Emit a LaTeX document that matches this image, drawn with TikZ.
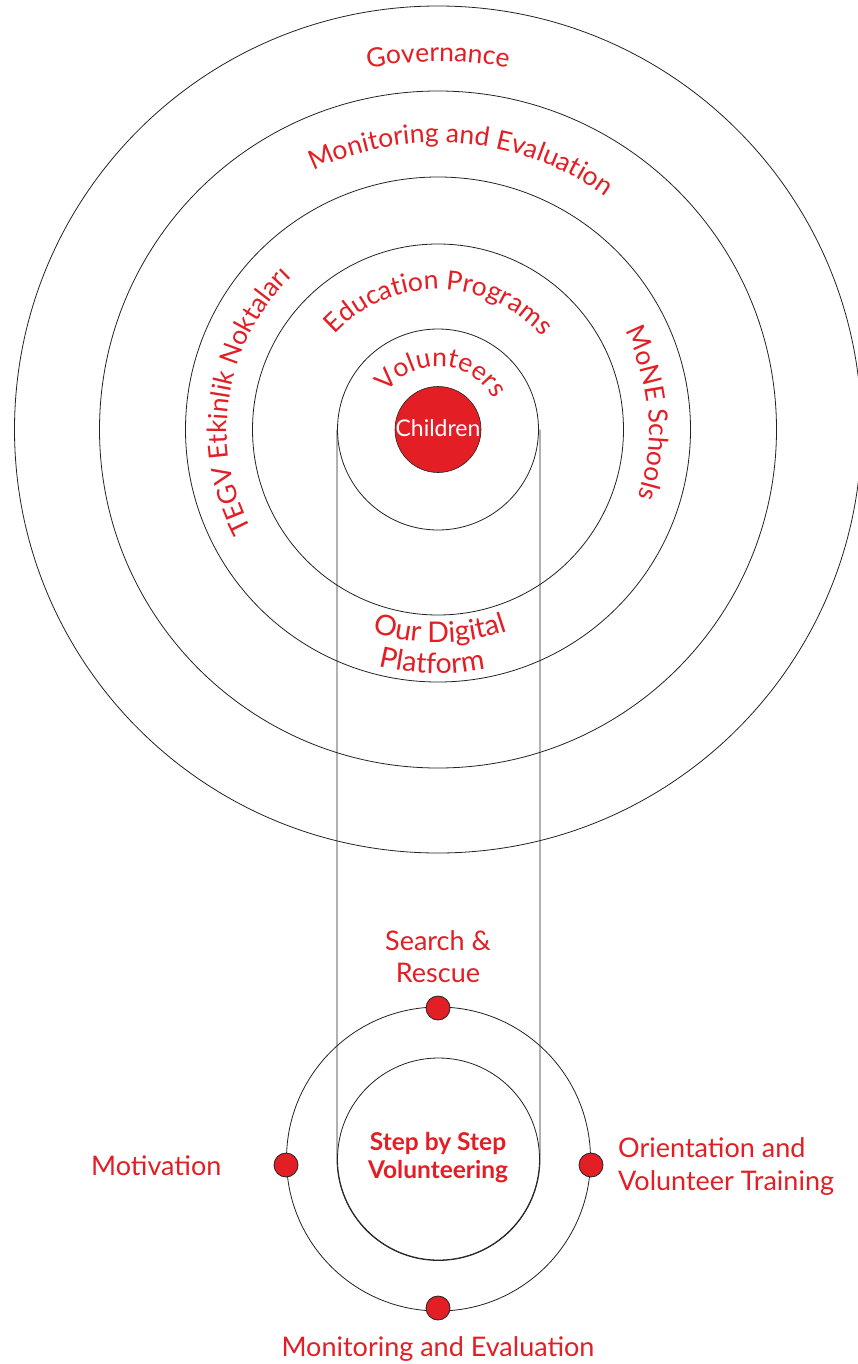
\documentclass[tikz,border=0pt]{standalone}
\usepackage{fontspec}
\setmainfont{Lato}
\usetikzlibrary{decorations.text}
\definecolor{tred}{RGB}{227,30,36}
\definecolor{tline}{RGB}{35,35,35}
\begin{document}
\begin{tikzpicture}[x=1pt,y=1pt,
  ring/.style={draw=tline,line width=0.8pt},
  lbl/.style={text=tred,font=\fontsize{27}{32}\selectfont,inner sep=0pt,anchor=base},
  boldlbl/.style={text=tred,font=\fontsize{24.5}{28}\selectfont\bfseries,inner sep=0pt,anchor=base},
  dot/.style={circle,fill=tred,draw=tline,line width=0.8pt,minimum size=24pt,inner sep=0pt},
  arctext/.style={decorate,decoration={text along path,text align=center,text color=tred,
      text={|\fontsize{26.5}{30}\selectfont|#1}}},
  bigarctext/.style={decorate,decoration={text along path,text align=center,text color=tred,
      text={|\fontsize{28.5}{30}\selectfont|#1}}}
]
\useasboundingbox (0,0) rectangle (858,-1364);
\fill[white] (0,0) rectangle (858,-1364);

% concentric rings
\coordinate (C) at (438,-429.5);
\draw[ring] (C) circle[radius=423.5];
\draw[ring] (C) circle[radius=338.5];
\draw[ring] (C) circle[radius=252.5];
\draw[ring] (C) circle[radius=185.5];
\draw[ring] (C) circle[radius=100.5];
\node[circle,fill=tred,draw=tline,line width=0.6pt,minimum size=86pt,inner sep=0pt] (children) at (C) {};
\node[text=white,font=\fontsize{23}{26}\selectfont,inner sep=0pt,anchor=base] (childrenlbl) at (438,-436) {Children};

% capsule
\coordinate (S) at (438.5,-1159);
\draw[ring] (337,-429.5) -- (337,-1159) arc[start angle=180,end angle=360,radius=101.5] -- (540,-429.5);

% step circles
\draw[ring] (S) circle[radius=101];
\draw[ring] (S) circle[radius=152];

% curved labels
\path[shift={(C)},arctext={Governance}] (150:368) arc[start angle=150,end angle=30,radius=368];
\path[shift={(C)},arctext={Monitoring and Evaluation}] (145:287) arc[start angle=145,end angle=25,radius=287];
\path[shift={(C)},arctext={Education Programs}] (160:140) arc[start angle=160,end angle=19,radius=140];
\path[shift={(C)},arctext={Volunteers}] (176:63) arc[start angle=176,end angle=-3,radius=63];
\path[shift={(C)},arctext={TEGV Etkinlik Noktaları}] (231:211) arc[start angle=231,end angle=111,radius=211];
\path[shift={(C)},arctext={MoNE Schools}] (64:211) arc[start angle=64,end angle=-55,radius=211];
\path[shift={(C)},bigarctext={Our Digital}] (210.5:213) arc[start angle=210.5,end angle=330.5,radius=213];
\path[shift={(C)},bigarctext={Platform}] (208.5:244) arc[start angle=208.5,end angle=328.5,radius=244];

% dots
\node[dot] (dtop) at (438,-1008) {};
\node[dot] (dbottom) at (438,-1308) {};
\node[dot] (dleft) at (286,-1165) {};
\node[dot] (dright) at (591,-1165) {};

% labels
\node[lbl] (sr1) at (438,-950) {Search \&};
\node[lbl] (sr2) at (438,-982) {Rescue};
\node[boldlbl] (st1) at (438,-1150) {Step by Step};
\node[boldlbl] (st2) at (438,-1178) {Volunteering};
\node[lbl,anchor=base west] (mot) at (91,-1175) {Motivation};
\node[lbl,anchor=base west] (or1) at (618,-1157) {Orientation and};
\node[lbl,anchor=base west] (or2) at (618,-1190) {Volunteer Training};
\node[lbl] (me) at (438,-1356) {Monitoring and Evaluation};
\end{tikzpicture}
\end{document}
